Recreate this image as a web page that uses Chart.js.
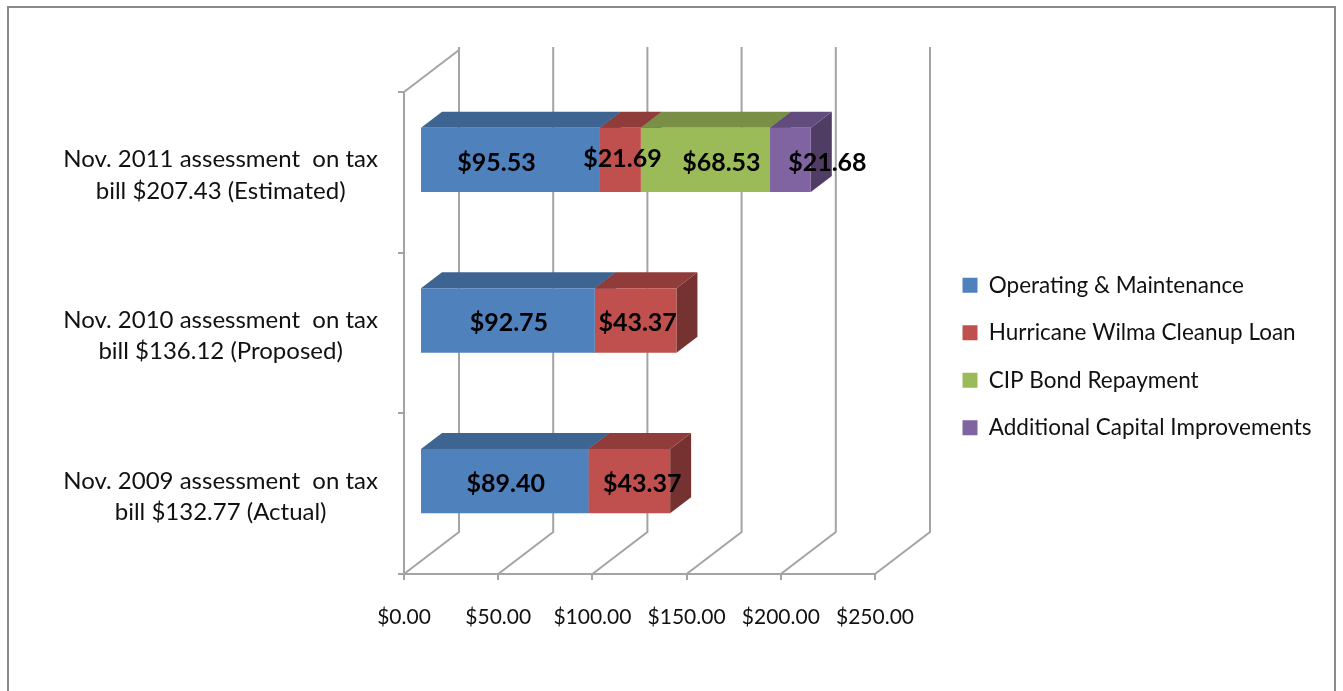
<!DOCTYPE html>
<html>
<head>
<meta charset="utf-8">
<title>Assessment chart</title>
<script src="https://cdn.jsdelivr.net/npm/chart.js@4/dist/chart.umd.js"></script>
<style>
  html, body { margin: 0; padding: 0; background: #fff; overflow: hidden; }
  canvas { display: block; filter: blur(0.4px); }
</style>
</head>
<body>
<canvas id="assessment_chart" width="1343" height="691"></canvas>
<script>
// Chart data
var categories = [
  ['Nov. 2011 assessment  on tax', 'bill $207.43 (Estimated)'],
  ['Nov. 2010 assessment  on tax', 'bill $136.12 (Proposed)'],
  ['Nov. 2009 assessment  on tax', 'bill $132.77 (Actual)']
];
var seriesNames = ['Operating & Maintenance', 'Hurricane Wilma Cleanup Loan', 'CIP Bond Repayment', 'Additional Capital Improvements'];
var operating = [95.53, 92.75, 89.40];
var wilmaLoan = [21.69, 43.37, 43.37];
var cipBond = [68.53, null, null];
var capital = [21.68, null, null];

// Colours: front, top, side
var frontColors = ['#4f81bd', '#c0504d', '#9bbb59', '#8064a2'];
var topColors = ['#3e6591', '#8f3c3a', '#788f45', '#624c7d'];
var sideColors = ['#33547a', '#763231', '#5f7137', '#4f3d64'];
var lineColor = '#a4a4a4';
var fontName = 'Lato, "Open Sans", sans-serif';

// 3D look of the wall and bars
var WALL_DX = 55, WALL_DY = -42;
var BAR_SHIFT_X = 16, BAR_SHIFT_Y = -12.5;
var BAR_DX = 21, BAR_DY = -16;

// hand placed labels in the original: [dx, dy] per series per category
var labelNudge = [
  [[-14, 3], [1, 2], [1, 3]],
  [[2, -1], [2, 2], [13, 3]],
  [[16, 3], null, null],
  [[37, 3], null, null]
];

function money(v) {
  return '$' + v.toFixed(2);
}

var wallPlugin = {
  id: 'wall3d',
  beforeDraw: function (chart) {
    var c = chart.ctx, a = chart.chartArea, xs = chart.scales.x;
    c.save();
    // frame, open at the bottom
    c.strokeStyle = '#8a8a8a';
    c.lineWidth = 2;
    c.beginPath();
    c.moveTo(8, chart.height);
    c.lineTo(8, 7);
    c.lineTo(chart.width - 8, 7);
    c.lineTo(chart.width - 8, chart.height);
    c.stroke();

    c.strokeStyle = lineColor;
    c.lineWidth = 2;
    xs.ticks.forEach(function (t, i) {
      var x = xs.getPixelForTick(i);
      c.beginPath();
      c.moveTo(x, a.bottom);
      c.lineTo(x + WALL_DX, a.bottom + WALL_DY);
      c.lineTo(x + WALL_DX, a.top + WALL_DY - 3);
      c.stroke();
    });
    c.beginPath();
    c.moveTo(a.left, a.top);
    c.lineTo(a.left + WALL_DX, a.top + WALL_DY);
    c.stroke();
    c.restore();
  },
  afterLayout: function (chart) {
    // legend sits right of the plot, outside the chart area
    var lg = chart.legend;
    lg.left = 937.5;
    lg.top = 249;
    lg.right = chart.width;
    lg.bottom = chart.height;
    // category labels sit a little below the band centre
    var ys = chart.scales.y;
    if (!ys.plainDrawLabels) {
      ys.plainDrawLabels = ys.drawLabels;
      ys.drawLabels = function (area) {
        chart.ctx.save();
        chart.ctx.translate(0, 3);
        ys.plainDrawLabels(area);
        chart.ctx.restore();
      };
    }
  },
  beforeDatasetsDraw: function (chart) {
    var c = chart.ctx;
    c.save();
    c.translate(BAR_SHIFT_X, BAR_SHIFT_Y);
    chart.data.datasets.forEach(function (ds, d) {
      chart.getDatasetMeta(d).data.forEach(function (bar, i) {
        if (ds.data[i] === null) return;
        var h = bar.height / 2;
        c.fillStyle = sideColors[d];
        c.beginPath();
        c.moveTo(bar.x, bar.y - h);
        c.lineTo(bar.x + BAR_DX, bar.y - h + BAR_DY);
        c.lineTo(bar.x + BAR_DX, bar.y + h + BAR_DY);
        c.lineTo(bar.x, bar.y + h);
        c.closePath();
        c.fill();
        c.fillStyle = topColors[d];
        c.beginPath();
        c.moveTo(bar.base, bar.y - h);
        c.lineTo(bar.base + BAR_DX, bar.y - h + BAR_DY);
        c.lineTo(bar.x + BAR_DX, bar.y - h + BAR_DY);
        c.lineTo(bar.x, bar.y - h);
        c.closePath();
        c.fill();
      });
    });
  },
  afterDatasetsDraw: function (chart) {
    var c = chart.ctx;
    c.restore();
    // value labels
    c.save();
    c.font = 'bold 25px ' + fontName;
    c.fillStyle = '#000';
    c.textAlign = 'center';
    c.textBaseline = 'middle';
    chart.data.datasets.forEach(function (ds, d) {
      chart.getDatasetMeta(d).data.forEach(function (bar, i) {
        if (ds.data[i] === null) return;
        var n = labelNudge[d][i];
        c.fillText(money(ds.data[i]),
          (bar.x + bar.base) / 2 + BAR_SHIFT_X + n[0],
          bar.y + BAR_SHIFT_Y + n[1]);
      });
    });
    c.restore();
  }
};

var ctx = document.getElementById('assessment_chart');
var assessmentChart = new Chart(ctx, {
  type: 'bar',
  data: {
    labels: categories,
    datasets: [operating, wilmaLoan, cipBond, capital].map(function (vals, i) {
      return {
        label: seriesNames[i],
        data: vals,
        backgroundColor: frontColors[i],
        borderWidth: 0,
        barPercentage: 0.4,
        categoryPercentage: 1,
        clip: false
      };
    })
  },
  options: {
    indexAxis: 'y',
    responsive: false,
    animation: false,
    layout: { padding: { left: 0, right: 468, top: 92, bottom: 0 } },
    plugins: {
      tooltip: { enabled: false },
      title: { display: false },
      legend: {
        position: 'chartArea',
        align: 'start',
        labels: {
          boxWidth: 15,
          boxHeight: 15,
          padding: 25,
          color: '#111',
          font: { family: fontName, size: 22.5 }
        }
      }
    },
    scales: {
      x: {
        stacked: true,
        min: 0,
        max: 250,
        afterFit: function (s) { s.height = 117; },
        grid: { drawOnChartArea: false, color: lineColor, lineWidth: 2, tickLength: 6 },
        border: { color: lineColor, width: 2 },
        ticks: {
          stepSize: 50,
          maxRotation: 0,
          autoSkip: false,
          padding: 25,
          color: '#111',
          font: { family: fontName, size: 21 },
          callback: function (v) { return money(v); }
        }
      },
      y: {
        stacked: true,
        afterFit: function (s) { s.width = 404; },
        grid: { drawOnChartArea: false, color: lineColor, lineWidth: 2, tickLength: 6 },
        border: { color: lineColor, width: 2 },
        ticks: {
          crossAlign: 'center',
          padding: 20,
          color: '#111',
          font: { family: fontName, size: 24, lineHeight: 1.3 }
        }
      }
    }
  },
  plugins: [wallPlugin]
});
</script>
</body>
</html>
